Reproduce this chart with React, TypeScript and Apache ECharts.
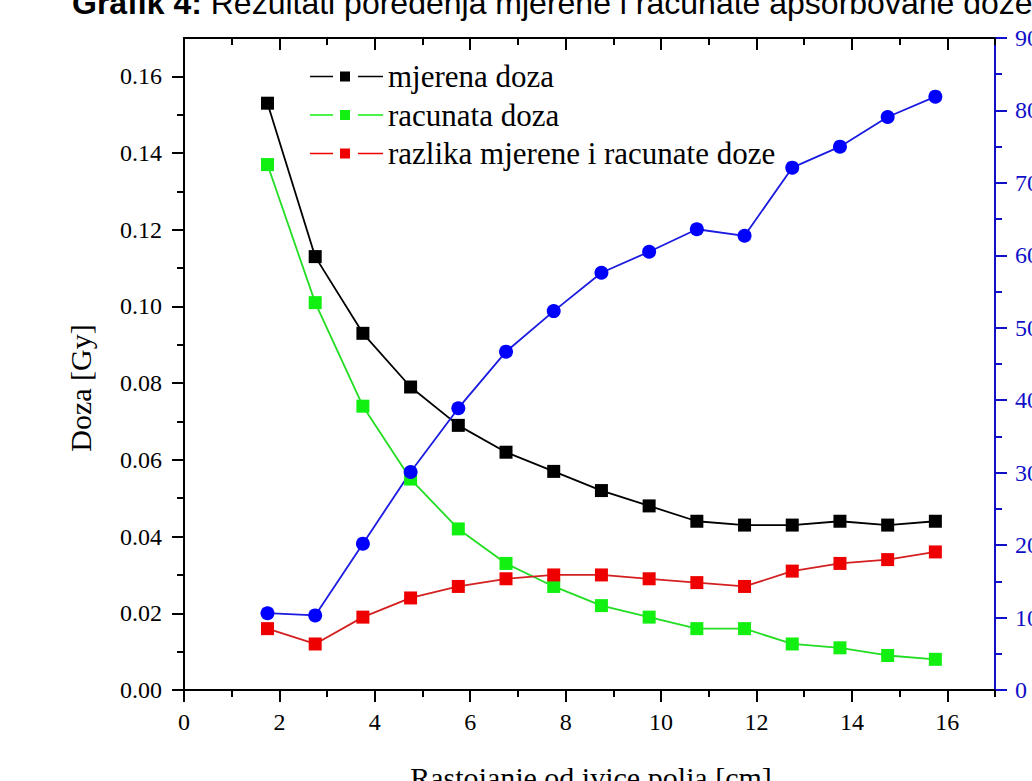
import React, { useEffect, useRef } from 'react';
import * as echarts from 'echarts';

const distances = [1.75, 2.75, 3.75, 4.75, 5.75, 6.75, 7.75, 8.75, 9.75, 10.75, 11.75, 12.75, 13.75, 14.75, 15.75];
const measuredDose = [0.153, 0.113, 0.093, 0.079, 0.069, 0.062, 0.057, 0.052, 0.048, 0.044, 0.043, 0.043, 0.044, 0.043, 0.044];
const calculatedDose = [0.137, 0.101, 0.074, 0.055, 0.042, 0.033, 0.027, 0.022, 0.019, 0.016, 0.016, 0.012, 0.011, 0.009, 0.008];
const doseDifference = [0.016, 0.012, 0.019, 0.024, 0.027, 0.029, 0.030, 0.030, 0.029, 0.028, 0.027, 0.031, 0.033, 0.034, 0.036];
const relativeDifference = [10.6, 10.3, 20.2, 30.1, 38.9, 46.7, 52.3, 57.6, 60.5, 63.6, 62.7, 72.1, 75.0, 79.1, 81.9];

const xMajorTicks = [0, 2, 4, 6, 8, 10, 12, 14, 16];
const xMinorTicks = [1, 3, 5, 7, 9, 11, 13, 15, 17];
const leftMajorTicks = [0, 0.02, 0.04, 0.06, 0.08, 0.1, 0.12, 0.14, 0.16];
const leftMinorTicks = [0.01, 0.03, 0.05, 0.07, 0.09, 0.11, 0.13, 0.15];
const rightMajorTicks = [0, 10, 20, 30, 40, 50, 60, 70, 80, 90];
const rightMinorTicks = [5, 15, 25, 35, 45, 55, 65, 75, 85];

const legendNames = ['mjerena doza', 'racunata doza', 'razlika mjerene i racunate doze'];

const SERIF = 'Liberation Serif';
const SANS = 'Liberation Sans';
const AXIS_BLUE = '#1010c8';
const LEGEND_ICON = 'path://M0,4.2h23v1.6h-23z M30,0h10v10h-10z M48,4.2h25v1.6h-25z';

function pairs(values: number[]) {
  return distances.map((d, i) => [d, values[i]]);
}

function axis(opts: {
  position: string;
  min: number;
  max: number;
  ticks: number[];
  len: number;
  inside: boolean;
  line: boolean;
  label: boolean;
  color: string;
  margin?: number;
  fmt?: (v: number) => string;
}) {
  return {
    type: 'value',
    position: opts.position,
    min: opts.min,
    max: opts.max,
    splitLine: { show: false },
    axisLine: { show: opts.line, onZero: false, lineStyle: { color: opts.color, width: 2 } },
    axisTick: {
      show: true,
      inside: opts.inside,
      length: opts.len,
      customValues: opts.ticks,
      lineStyle: { color: opts.color, width: 2 },
    },
    minorTick: { show: false },
    axisLabel: opts.label
      ? {
          show: true,
          customValues: opts.ticks,
          margin: opts.margin ?? 20,
          fontFamily: SERIF,
          fontSize: 24,
          color: opts.color,
          formatter: opts.fmt,
        }
      : { show: false },
  };
}

export default function App() {
  const ref = useRef<HTMLDivElement>(null);

  useEffect(() => {
    if (!ref.current) return;
    const chart = echarts.init(ref.current, undefined, { renderer: 'svg' });
    chart.setOption({
      animation: false,
      backgroundColor: '#ffffff',
      grid: { left: 184, right: 37, top: 38, bottom: 91, containLabel: false, outerBoundsMode: 'none' },
      xAxis: [
        axis({ position: 'bottom', min: 0, max: 17, ticks: xMajorTicks, len: 12, inside: false, line: true, label: true, color: '#000', margin: 20, fmt: (v: number) => String(v) }),
        axis({ position: 'bottom', min: 0, max: 17, ticks: xMinorTicks, len: 7, inside: false, line: false, label: false, color: '#000' }),
        axis({ position: 'top', min: 0, max: 17, ticks: xMajorTicks, len: 12, inside: true, line: true, label: false, color: '#000' }),
        axis({ position: 'top', min: 0, max: 17, ticks: xMinorTicks, len: 7, inside: true, line: false, label: false, color: '#000' }),
      ],
      yAxis: [
        axis({ position: 'left', min: 0, max: 0.17, ticks: leftMajorTicks, len: 12, inside: false, line: true, label: true, color: '#000', margin: 22, fmt: (v: number) => v.toFixed(2) }),
        axis({ position: 'left', min: 0, max: 0.17, ticks: leftMinorTicks, len: 7, inside: false, line: false, label: false, color: '#000' }),
        axis({ position: 'right', min: 0, max: 90, ticks: rightMajorTicks, len: 12, inside: false, line: true, label: true, color: AXIS_BLUE, margin: 20, fmt: (v: number) => String(v) }),
        axis({ position: 'right', min: 0, max: 90, ticks: rightMinorTicks, len: 7, inside: false, line: false, label: false, color: AXIS_BLUE }),
      ],
      legend: {
        orient: 'vertical',
        left: 310,
        top: 61,
        padding: 0,
        itemWidth: 73,
        itemHeight: 10,
        itemGap: 7.5,
        textStyle: { fontFamily: SERIF, fontSize: 31, color: '#000', lineHeight: 30 },
        data: legendNames.map((n) => ({ name: n, icon: LEGEND_ICON })),
      },
      series: [
        {
          name: legendNames[0],
          type: 'line',
          xAxisIndex: 0,
          yAxisIndex: 0,
          data: pairs(measuredDose),
          symbol: 'rect',
          symbolSize: 13,
          itemStyle: { color: '#000000' },
          lineStyle: { color: '#000000', width: 1.8 },
        },
        {
          name: legendNames[1],
          type: 'line',
          xAxisIndex: 0,
          yAxisIndex: 0,
          data: pairs(calculatedDose),
          symbol: 'rect',
          symbolSize: 13,
          itemStyle: { color: '#11f011' },
          lineStyle: { color: '#22dd22', width: 1.8 },
        },
        {
          name: legendNames[2],
          type: 'line',
          xAxisIndex: 0,
          yAxisIndex: 0,
          data: pairs(doseDifference),
          symbol: 'rect',
          symbolSize: 13,
          itemStyle: { color: '#ee0000' },
          lineStyle: { color: '#d42020', width: 1.8 },
        },
        {
          name: 'relativna razlika',
          type: 'line',
          xAxisIndex: 0,
          yAxisIndex: 2,
          data: pairs(relativeDifference),
          symbol: 'circle',
          symbolSize: 14,
          itemStyle: { color: '#0000ff' },
          lineStyle: { color: '#1a1ae0', width: 1.8 },
        },
      ],
      graphic: [
        {
          type: 'text',
          x: 72,
          y: 3,
          style: {
            text: '{b|Grafik 4:} Rezultati poredenja mjerene i racunate apsorbovane doze',
            fontFamily: SANS,
            fontSize: 32,
            fill: '#000',
            align: 'left',
            verticalAlign: 'middle',
            rich: { b: { fontWeight: 'bold', fontFamily: SANS, fontSize: 32 } },
          },
        },
        {
          type: 'text',
          x: 80,
          y: 388,
          rotation: Math.PI / 2,
          style: {
            text: 'Doza [Gy]',
            fontFamily: SERIF,
            fontSize: 30,
            fill: '#000',
            align: 'center',
            verticalAlign: 'middle',
          },
        },
        {
          type: 'text',
          x: 591,
          y: 777,
          style: {
            text: 'Rastojanje od ivice polja [cm]',
            fontFamily: SERIF,
            fontSize: 30,
            fill: '#000',
            align: 'center',
            verticalAlign: 'middle',
          },
        },
      ],
    });
    return () => chart.dispose();
  }, []);

  return (
    <div
      ref={ref}
      style={{ position: 'absolute', left: 0, top: 0, width: 1032, height: 781, background: '#fff' }}
    />
  );
}
